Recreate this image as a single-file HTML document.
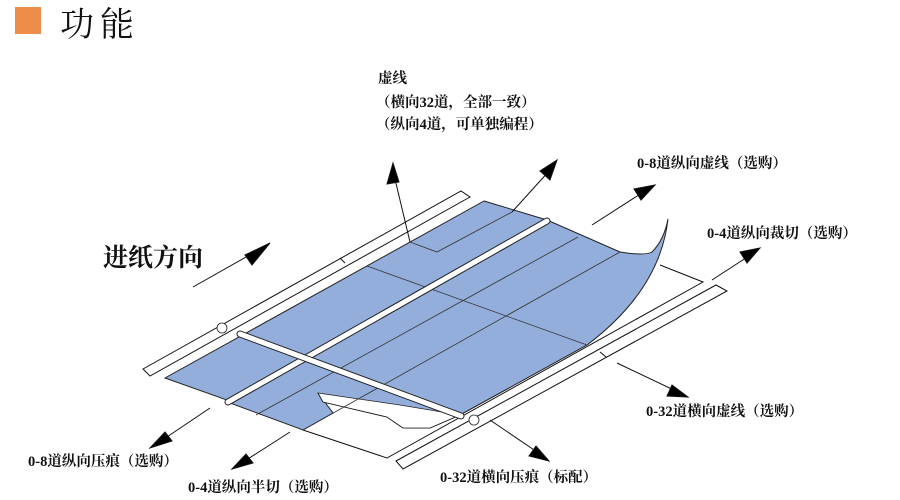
<!DOCTYPE html>
<html><head><meta charset="utf-8"><style>
body{margin:0;width:900px;height:500px;background:#fff;overflow:hidden}
svg{display:block}
text{font-family:"Liberation Serif","Noto Serif CJK SC",serif;fill:#111}
</style></head><body>
<svg width="900" height="500" viewBox="0 0 900 500">
<rect x="15" y="7" width="26" height="27" fill="#EE8D4A"/>
<text x="60" y="36" font-size="34" letter-spacing="6" font-family="'Noto Serif CJK SC',serif">功能</text>
<text x="103" y="266" font-size="25" font-weight="bold" font-family="'Noto Sans CJK SC',sans-serif">进纸方向</text>

<g stroke="#111" stroke-width="1" fill="none">
<!-- upper rail -->
<polygon points="143,369 461,191 470,197 150,376" fill="#fff"/>
<line x1="340" y1="258" x2="345" y2="263"/>
<!-- lower rail -->
<polygon points="396,461 716,285 727,291 403,469" fill="#fff"/>
<line x1="600" y1="352" x2="606" y2="357"/>
<!-- frame lines -->
<polyline points="303,430 387,458 703,282 660,265"/>
</g>

<!-- paper -->
<path d="M484,201 L547,220 L620,252 Q645,256 652,252 Q664,240 668,219 Q660,290 587,345 L460,415 L430,428 L403,428 L387,417 L323,402 L318,393 L333,413 L303,430 L230,403 L227,400 L165,378 Z" fill="#93AEDB" stroke="#222" stroke-width="1"/>
<!-- tear flap -->
<path d="M318,393 L323,402 L387,417 L403,428 L430,428 L460,415 L400,405 Z" fill="#fff" stroke="#222" stroke-width="0.8"/>

<g stroke="#333" stroke-width="0.8" fill="none">
<line x1="256" y1="415" x2="578" y2="237"/>
<line x1="303" y1="430" x2="620" y2="252"/>
<polyline points="410,242 437,252 512,212"/>
<line x1="367" y1="266" x2="587" y2="345"/>
</g>
<!-- white crease bars -->
<g stroke-linecap="round">
<line x1="228" y1="402" x2="547" y2="221" stroke="#222" stroke-width="7"/>
<line x1="228" y1="402" x2="547" y2="221" stroke="#fff" stroke-width="5"/>
<line x1="240" y1="334" x2="461" y2="416" stroke="#222" stroke-width="7"/>
<line x1="240" y1="334" x2="461" y2="416" stroke="#fff" stroke-width="5"/>
</g>
<ellipse cx="222" cy="328" rx="5" ry="5" fill="#fff" stroke="#222" stroke-width="0.8"/>
<ellipse cx="474" cy="420" rx="5" ry="5" fill="#fff" stroke="#222" stroke-width="0.8"/>

<!-- arrows -->
<g stroke="#111" stroke-width="1" fill="#000">
<line x1="193" y1="287" x2="262" y2="248"/><polygon points="270,243 245,255 252,265"/>
<line x1="410" y1="242" x2="394" y2="175"/><polygon points="393,163 387,184 399,182"/>
<line x1="512" y1="212" x2="550" y2="170"/><polygon points="557,160 540,171 550,180"/>
<line x1="592" y1="225" x2="645" y2="191"/><polygon points="655,185 634,189 641,200"/>
<line x1="712" y1="280" x2="752" y2="254"/><polygon points="760,248 740,252 747,263"/>
<line x1="617" y1="363" x2="678" y2="392"/><polygon points="688,397 672,385 667,396"/>
<line x1="490" y1="420" x2="540" y2="454"/><polygon points="549,461 536,446 529,456"/>
<line x1="210" y1="408" x2="158" y2="443"/><polygon points="150,448 165,432 172,441"/>
<line x1="290" y1="432" x2="240" y2="464"/><polygon points="232,469 246,454 253,463"/>
</g>

<g font-size="14.5" font-weight="bold">
<text x="378" y="83">虚线</text>
<text x="376" y="107">（横向32道，全部一致）</text>
<text x="376" y="129">（纵向4道，可单独编程）</text>
<text x="637" y="168">0-8道纵向虚线（选购）</text>
<text x="707" y="238">0-4道纵向裁切（选购）</text>
<text x="646" y="416">0-32道横向虚线（选购）</text>
<text x="28" y="466">0-8道纵向压痕（选购）</text>
<text x="188" y="492">0-4道纵向半切（选购）</text>
<text x="440" y="482">0-32道横向压痕（标配）</text>
</g>
</svg>
</body></html>
